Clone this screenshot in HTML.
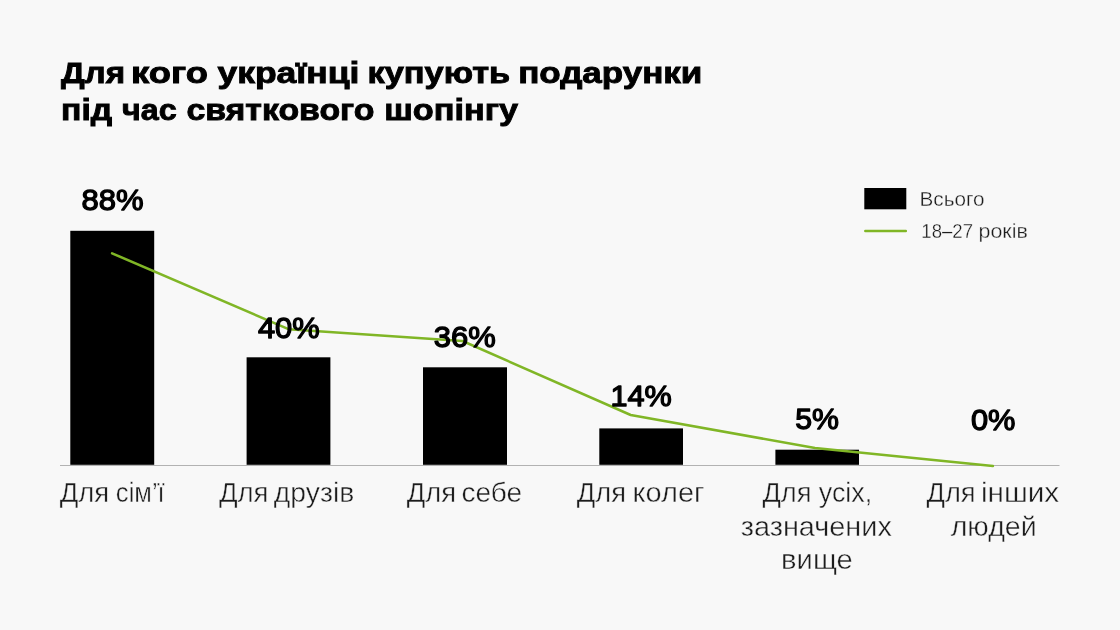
<!DOCTYPE html>
<html><head><meta charset="utf-8">
<style>
html,body{margin:0;padding:0}
body{width:1120px;height:630px;background:#f8f8f8;overflow:hidden;font-family:"Liberation Sans",sans-serif;}
svg{display:block;will-change:transform}
text{font-family:"Liberation Sans",sans-serif;white-space:pre}
</style></head><body>
<svg width="1120" height="630" viewBox="0 0 1120 630">
<rect x="60" y="465" width="999.5" height="1" fill="#b2b2b2"/>
<rect x="70.3" y="230.8" width="83.9" height="234" fill="#000"/>
<rect x="246.6" y="357.3" width="83.8" height="107.5" fill="#000"/>
<rect x="423" y="367.3" width="84" height="97.5" fill="#000"/>
<rect x="599.3" y="428.4" width="83.7" height="36.4" fill="#000"/>
<rect x="775.4" y="449.7" width="83.6" height="15.1" fill="#000"/>
<polyline points="112.1,253.3 288.5,329.2 462.5,341 630.7,415 815,448 992.9,466" fill="none" stroke="#80b626" stroke-width="2.5" stroke-linejoin="round" stroke-linecap="round"/>
<rect x="864.3" y="188" width="42" height="21.3" fill="#000"/>
<line x1="865.3" y1="230.9" x2="905.8" y2="230.9" stroke="#80b626" stroke-width="2.5" stroke-linecap="round"/>
<text transform="translate(60.92,83.30) scale(1.1070,1)" font-size="30" font-weight="bold" fill="#000" stroke="#000" stroke-width="0.9">Для</text>
<text transform="translate(130.96,83.30) scale(1.2144,1)" font-size="30" font-weight="bold" fill="#000" stroke="#000" stroke-width="0.9">кого</text>
<text transform="translate(217.40,83.30) scale(1.1842,1)" font-size="30" font-weight="bold" fill="#000" stroke="#000" stroke-width="0.9">українці</text>
<text transform="translate(367.47,83.30) scale(1.1466,1)" font-size="30" font-weight="bold" fill="#000" stroke="#000" stroke-width="0.9">купують</text>
<text transform="translate(518.13,83.30) scale(1.1667,1)" font-size="30" font-weight="bold" fill="#000" stroke="#000" stroke-width="0.9">подарунки</text>
<text transform="translate(61.10,119.60) scale(1.1233,1)" font-size="30" font-weight="bold" fill="#000" stroke="#000" stroke-width="0.9">під</text>
<text transform="translate(122.09,119.60) scale(1.0775,1)" font-size="30" font-weight="bold" fill="#000" stroke="#000" stroke-width="0.9">час</text>
<text transform="translate(186.41,119.60) scale(1.1286,1)" font-size="30" font-weight="bold" fill="#000" stroke="#000" stroke-width="0.9">святкового</text>
<text transform="translate(384.27,119.60) scale(1.1442,1)" font-size="30" font-weight="bold" fill="#000" stroke="#000" stroke-width="0.9">шопінгу</text>
<text transform="translate(81.43,210.00) scale(1.0339,1)" font-size="30" fill="#000" stroke="#000" stroke-width="1.3" stroke-linejoin="round">88%</text>
<text transform="translate(257.90,337.60) scale(1.0293,1)" font-size="30" fill="#000" stroke="#000" stroke-width="1.3" stroke-linejoin="round">40%</text>
<text transform="translate(433.84,347.20) scale(1.0321,1)" font-size="30" fill="#000" stroke="#000" stroke-width="1.3" stroke-linejoin="round">36%</text>
<text transform="translate(610.47,406.20) scale(1.0215,1)" font-size="30" fill="#000" stroke="#000" stroke-width="1.3" stroke-linejoin="round">14%</text>
<text transform="translate(795.14,429.00) scale(1.0106,1)" font-size="30" fill="#000" stroke="#000" stroke-width="1.3" stroke-linejoin="round">5%</text>
<text transform="translate(970.89,430.00) scale(1.0259,1)" font-size="30" fill="#000" stroke="#000" stroke-width="1.3" stroke-linejoin="round">0%</text>
<text transform="translate(59.64,502.00) scale(1.0184,1)" font-size="27" fill="#1c1c1c" stroke="#f8f8f8" stroke-width="0.4">Для</text>
<text transform="translate(115.87,502.00) scale(0.9478,1)" font-size="27" fill="#1c1c1c" stroke="#f8f8f8" stroke-width="0.4">сім’ї</text>
<text transform="translate(218.94,502.00) scale(1.0184,1)" font-size="27" fill="#1c1c1c" stroke="#f8f8f8" stroke-width="0.4">Для</text>
<text transform="translate(273.83,502.00) scale(1.0494,1)" font-size="27" fill="#1c1c1c" stroke="#f8f8f8" stroke-width="0.4">друзів</text>
<text transform="translate(406.75,502.00) scale(1.0141,1)" font-size="27" fill="#1c1c1c" stroke="#f8f8f8" stroke-width="0.4">Для</text>
<text transform="translate(461.55,502.00) scale(1.0377,1)" font-size="27" fill="#1c1c1c" stroke="#f8f8f8" stroke-width="0.4">себе</text>
<text transform="translate(576.75,502.00) scale(1.0119,1)" font-size="27" fill="#1c1c1c" stroke="#f8f8f8" stroke-width="0.4">Для</text>
<text transform="translate(632.55,502.00) scale(1.0732,1)" font-size="27" fill="#1c1c1c" stroke="#f8f8f8" stroke-width="0.4">колег</text>
<text transform="translate(762.45,502.00) scale(1.0076,1)" font-size="27" fill="#1c1c1c" stroke="#f8f8f8" stroke-width="0.4">Для</text>
<text transform="translate(818.75,502.00) scale(0.9971,1)" font-size="27" fill="#1c1c1c" stroke="#f8f8f8" stroke-width="0.4">усіх,</text>
<text transform="translate(740.74,535.80) scale(1.0696,1)" font-size="27" fill="#1c1c1c" stroke="#f8f8f8" stroke-width="0.4">зазначених</text>
<text transform="translate(781.08,569.40) scale(1.0818,1)" font-size="27" fill="#1c1c1c" stroke="#f8f8f8" stroke-width="0.4">вище</text>
<text transform="translate(926.55,502.00) scale(1.0076,1)" font-size="27" fill="#1c1c1c" stroke="#f8f8f8" stroke-width="0.4">Для</text>
<text transform="translate(980.90,502.00) scale(1.1004,1)" font-size="27" fill="#1c1c1c" stroke="#f8f8f8" stroke-width="0.4">інших</text>
<text transform="translate(950.68,535.80) scale(1.0589,1)" font-size="27" fill="#1c1c1c" stroke="#f8f8f8" stroke-width="0.4">людей</text>
<text transform="translate(919.59,205.70) scale(1.0341,1)" font-size="20" fill="#1c1c1c" stroke="#f8f8f8" stroke-width="0.3">Всього</text>
<text transform="translate(921.37,237.90) scale(0.9290,1)" font-size="20" fill="#1c1c1c" stroke="#f8f8f8" stroke-width="0.3">18–27</text>
<text transform="translate(978.50,237.90) scale(1.0709,1)" font-size="20" fill="#1c1c1c" stroke="#f8f8f8" stroke-width="0.3">років</text>
</svg>
</body></html>
